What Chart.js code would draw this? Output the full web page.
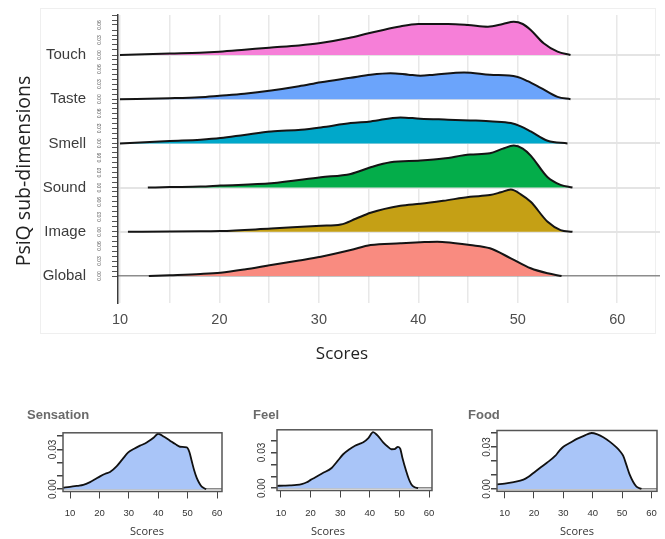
<!DOCTYPE html>
<html><head><meta charset="utf-8">
<script src="https://cdn.jsdelivr.net/npm/chart.js@4.4.1/dist/chart.umd.min.js"></script>
<style>
html,body{margin:0;padding:0;background:#fff;width:665px;height:539px;overflow:hidden;position:relative}
canvas{position:absolute;display:block}
.frame{position:absolute;border:1px solid #efefef;box-sizing:border-box}
</style></head><body>
<div class="frame" style="left:40px;top:8px;width:616px;height:326px"></div>
<canvas id="ridge" width="665" height="370" style="left:0;top:0;width:665px;height:370px"></canvas>
<canvas id="p1" width="212" height="141" style="left:20px;top:398px;width:212px;height:141px"></canvas>
<canvas id="p2" width="196" height="141" style="left:246px;top:398px;width:196px;height:141px"></canvas>
<canvas id="p3" width="204" height="141" style="left:461px;top:398px;width:204px;height:141px"></canvas>
<script>
// ---------- data ----------
const ridgeCategories = ['Global','Image','Sound','Smell','Taste','Touch'];
const xTickLabels = [10,20,30,40,50,60];
const gridSteps = [10,15,20,25,30,35,40,45,50,55,60];
const densityTickLabels = ['0.00','0.03','0.06'];

const globalX = [12.9,15,18.1,20.1,22.5,25.2,28,30.2,33.2,35.2,38.2,40.2,41.9,43.5,45.2,47.2,49.3,51.3,53,54.4];
const globalD = [0,0.0015,0.004,0.0066,0.013,0.022,0.031,0.0386,0.052,0.062,0.0654,0.0674,0.0686,0.066,0.062,0.0554,0.0354,0.0154,0.0054,0];
const imageX = [10.8,15,18.1,20.1,25.2,30.2,32.2,33.7,35.2,38.2,40.2,42.5,45.2,47.2,48.3,49.3,50.3,51.3,53,54.3,55.5];
const imageD = [0,0.0005,0.001,0.0014,0.0066,0.012,0.0146,0.026,0.038,0.052,0.056,0.062,0.07,0.0734,0.079,0.0846,0.075,0.06,0.02,0.0034,0];
const soundX = [12.8,15,18.1,20.1,25.2,30.2,33.2,35.2,37.2,40.2,42.5,45.2,47.2,48.5,49.6,50.5,51.3,53,54.3,55.5];
const soundD = [0,0.001,0.002,0.004,0.0086,0.0206,0.0274,0.0406,0.0506,0.054,0.058,0.066,0.0686,0.078,0.084,0.078,0.064,0.0206,0.0054,0];
const smellX = [10,12,15,18.1,20.1,22.5,25.2,28.2,30.2,33.2,35.2,38.2,40.2,43,45.2,47.5,49.3,50.3,51.3,53,55];
const smellD = [0,0.002,0.005,0.0075,0.0106,0.017,0.024,0.0274,0.032,0.0406,0.044,0.052,0.0494,0.0475,0.046,0.044,0.0406,0.034,0.024,0.0054,0];
const tasteX = [10,15,18,20,22.5,25.2,28,30.2,33.2,35.2,37.2,39,40.2,41.6,44.6,47.2,49.9,51,52.3,54,55.3];
const tasteD = [0,0.002,0.004,0.007,0.011,0.0174,0.026,0.034,0.043,0.049,0.052,0.049,0.047,0.049,0.0535,0.049,0.045,0.036,0.0226,0.0046,0];
const touchX = [10,15,18,20,22.5,25,28,30,33,35,38,40,43,45,47,48.5,49.6,50.5,51.3,52.6,54,55.3];
const touchD = [0,0.003,0.0045,0.0066,0.0105,0.0146,0.019,0.0234,0.034,0.0434,0.0566,0.062,0.062,0.06,0.0566,0.062,0.0666,0.062,0.05,0.0234,0.0066,0];

const panelTitles = ['Sensation','Feel','Food'];
const smallXTicks = [10,20,30,40,50,60];
const smallYTicks = [0,0.01,0.02,0.03,0.04];
const smallYLabels = ['0.00','','','0.03',''];
const sensationX = [7.6,10,12.5,14.5,16.8,18.5,20.2,22,23.6,25.9,27.8,29.8,31.8,33.8,35.5,36.7,38.5,40,42,44,45.8,47.4,49.7,50.6,51.4,52.2,53.1,54,54.8,56.3];
const sensationD = [0.0012,0.0018,0.0026,0.0033,0.0054,0.0075,0.0097,0.0117,0.013,0.0174,0.0225,0.0277,0.0305,0.0328,0.0345,0.0361,0.039,0.0418,0.0395,0.0366,0.034,0.032,0.0315,0.028,0.0212,0.0145,0.0085,0.0045,0.002,0];
const feelX = [8.7,11,13,15.3,17,18.7,20,21.5,24,27.1,29,31,33,35,36.5,37.8,39.5,41.1,42.5,44.5,46,47.3,48.3,49.5,50.3,51,52.3,53.2,54,55,56.3];
const feelD = [0.002,0.0022,0.0024,0.0028,0.0035,0.005,0.007,0.009,0.0125,0.017,0.0225,0.0285,0.0325,0.0356,0.0372,0.0385,0.042,0.047,0.0445,0.0385,0.035,0.0327,0.0328,0.0347,0.033,0.0256,0.0142,0.0075,0.0034,0.001,0];
const foodX = [7.4,10,13.1,16.4,18,19.8,22,24.4,27.2,28.6,30,32.3,34.6,37,39.6,41.6,43.6,46,48.1,49.3,50.4,51.5,52.6,53.8,54.9,56.6];
const foodD = [0.0033,0.0038,0.0049,0.0066,0.0085,0.0114,0.015,0.0187,0.0236,0.0272,0.0302,0.033,0.0358,0.038,0.04,0.039,0.037,0.0335,0.0297,0.027,0.0236,0.017,0.0102,0.005,0.0017,0];

// ---------- styles / layout ----------
const ROW = 0.0884;
const SANS = '"Liberation Sans", Arial, sans-serif';
const ridgeColors = ['#f98b80','#c5a015','#04ad4a','#00a8ca','#6ba4fb','#f67fd8'];
const ridgeXs = [globalX, imageX, soundX, smellX, tasteX, touchX];
const ridgeDs = [globalD, imageD, soundD, smellD, tasteD, touchD];

function freeText(items){
  return {id:'freeText', afterDraw(chart){
    const ctx = chart.ctx;
    items.forEach(it=>{
      ctx.save(); ctx.font = it.font; ctx.fillStyle = it.color;
      ctx.textAlign='center'; ctx.textBaseline='middle';
      ctx.translate(it.x, it.y); ctx.rotate(it.rot||0);
      ctx.fillText(it.text, 0, 0); ctx.restore();
    });
  }};
}

new Chart(document.getElementById('ridge'), {
  type:'line',
  data:{datasets: ridgeCategories.map((name,i)=>({
    label:name,
    data: ridgeXs[i].map((x,j)=>({x:x, y:i*ROW + ridgeDs[i][j]})),
    fill:{value:i*ROW},
    backgroundColor: ridgeColors[i],
    borderColor:'#141414', borderWidth:2, pointRadius:0,
    cubicInterpolationMode:'monotone', clip:false
  }))},
  options:{
    responsive:false, animation:false, events:[],
    layout:{padding:{left:0,right:5,top:15,bottom:0}},
    plugins:{legend:{display:false}, tooltip:{enabled:false}},
    scales:{
      x:{type:'linear', position:'bottom', min:9.8, max:64.3,
        afterBuildTicks:s=>{ s.ticks = gridSteps.map(v=>({value:v})); },
        afterFit:s=>{ s.height=67; s.paddingLeft=0; s.paddingRight=0; },
        ticks:{autoSkip:false, maxRotation:0, minRotation:0, padding:8, color:'#4d4d4d',
          font:{family:SANS, size:14.5}, callback:v=> xTickLabels.includes(v) ? String(v) : ''},
        grid:{color:'#e8e8e8', lineWidth:1.5, drawTicks:false},
        border:{display:false}
      },
      yc:{type:'linear', position:'left', weight:2, min:-0.054, max:0.522,
        afterBuildTicks:s=>{ s.ticks = ridgeCategories.map((c,r)=>({value:r*ROW})); },
        afterFit:s=>{ s.width=94; s.paddingTop=0; s.paddingBottom=0; },
        ticks:{autoSkip:false, padding:8, color:'#3c3c3c', font:{family:SANS, size:15},
          callback:(v,i)=>ridgeCategories[i]},
        grid:{drawOnChartArea:true, drawTicks:false,
          color:c=> c.index===0 ? '#8c8c8c' : '#e4e4e4',
          lineWidth:c=> c.index===0 ? 1.5 : 2},
        border:{display:false}
      },
      y:{type:'linear', position:'left', weight:1, min:-0.054, max:0.522,
        afterBuildTicks:s=>{ const t=[]; ridgeCategories.forEach((c,r)=>{ for(let k=0;k<=8;k++) t.push({value:r*ROW + k*0.01}); }); s.ticks=t; },
        afterFit:s=>{ s.width=24; s.paddingTop=0; s.paddingBottom=0; },
        ticks:{autoSkip:false, minRotation:90, maxRotation:90, crossAlign:'center', padding:8,
          color:'#555', font:{family:SANS, size:5},
          callback:(v,i)=>{ const k=i%9; return (k%3===0 && k<=6) ? densityTickLabels[k/3] : ''; }},
        grid:{drawOnChartArea:false, drawTicks:true, tickLength:6, tickColor:'#555', tickWidth:1},
        border:{display:true, color:'#3a3a3a', width:1.5}
      }
    }
  },
  plugins:[freeText([
    {text:'PsiQ sub-dimensions', x:24, y:171, rot:-Math.PI/2, font:'19.5px "Open Sans", sans-serif', color:'#222'},
    {text:'Scores', x:342, y:354, rot:0, font:'17px "Open Sans", sans-serif', color:'#222'}
  ])]
});

const boxPlugin = {id:'box', afterDatasetsDraw(chart){
  const a = chart.chartArea, ctx = chart.ctx;
  ctx.save(); ctx.strokeStyle='#555'; ctx.lineWidth=1.5;
  ctx.strokeRect(a.left, a.top, a.right-a.left, a.bottom-a.top); ctx.restore();
}};

function densityPanel(id, title, xs, ds, cfg){
  new Chart(document.getElementById(id), {
    type:'line',
    data:{datasets:[{data: xs.map((x,j)=>({x:x, y:ds[j]})), fill:'origin',
      backgroundColor:'#a9c5f8', borderColor:'#111', borderWidth:1.8, pointRadius:0,
      cubicInterpolationMode:'monotone'}]},
    options:{responsive:false, animation:false, events:[],
      layout:{padding:{left:7, right:cfg.padR, top:0, bottom:0}},
      plugins:{legend:{display:false}, tooltip:{enabled:false},
        title:{display:true, text:title, align:'start', color:'#6a6a6a',
          font:{family:SANS, weight:'bold', size:13}, padding:{top:9.5, bottom:cfg.titleGap}}},
      scales:{
        x:{type:'linear', min:cfg.xmin, max:cfg.xmax,
          afterBuildTicks:s=>{ s.ticks = smallXTicks.map(v=>({value:v})); },
          afterFit:s=>{ s.height=cfg.xh; s.paddingLeft=0; s.paddingRight=0; },
          ticks:{autoSkip:false, maxRotation:0, minRotation:0, padding:cfg.xpad, color:'#333', font:{family:SANS, size:9.5}},
          grid:{drawOnChartArea:false, tickLength:7, tickColor:'#444'},
          border:{display:false}
        },
        y:{type:'linear', min:cfg.ymin, max:cfg.ymax,
          afterBuildTicks:s=>{ s.ticks = smallYTicks.map(v=>({value:v})); },
          afterFit:s=>{ s.width=cfg.yw; s.paddingTop=0; s.paddingBottom=0; },
          ticks:{autoSkip:false, minRotation:90, maxRotation:90, crossAlign:'center', padding:cfg.ypad,
            color:'#333', font:{family:SANS, size:10}, callback:(v,i)=>smallYLabels[i]},
          grid:{drawOnChartArea:true, color:c=> c.index===0 ? '#8a8a8a' : 'rgba(0,0,0,0)',
            lineWidth:1.5, tickLength:6, tickColor:'#444'},
          border:{display:false}
        }
      }
    },
    plugins:[boxPlugin, freeText([{text:'Scores', x:cfg.sx, y:134, rot:0, font:'11px "Open Sans", sans-serif', color:'#333'}])]
  });
}

densityPanel('p1', panelTitles[0], sensationX, sensationD,
  {padR:10, titleGap:9.7, xmin:7.6, xmax:61.7, xh:47.5, xpad:9.2, ymin:-0.0017, ymax:0.0425, yw:36, ypad:-6, sx:127});
densityPanel('p2', panelTitles[1], feelX, feelD,
  {padR:10, titleGap:6.7, xmin:8.65, xmax:61.0, xh:48.5, xpad:10, ymin:-0.0019, ymax:0.049, yw:24, ypad:-1, sx:82});
densityPanel('p3', panelTitles[2], foodX, foodD,
  {padR:8, titleGap:7.4, xmin:7.4, xmax:61.9, xh:47.7, xpad:9.2, ymin:-0.0017, ymax:0.0418, yw:29, ypad:-6, sx:116});
</script>
</body></html>
